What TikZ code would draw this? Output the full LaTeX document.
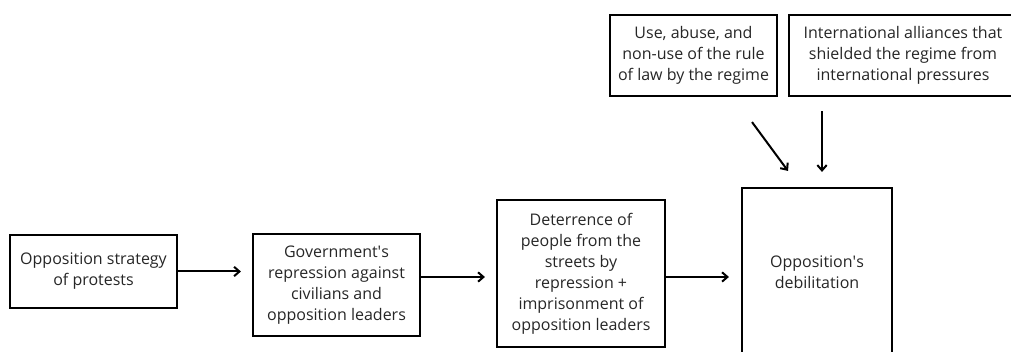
\documentclass[tikz,border=0pt]{standalone}
\usepackage{fontspec}
\setmainfont{Open Sans}
\usetikzlibrary{arrows.meta,calc}
\tikzset{
  box/.style={draw,line width=1.6pt,align=center,inner sep=0pt,
    font=\fontsize{12}{15.75}\selectfont,text=black!85},
  arr/.style={-{Straight Barb[length=4pt,width=7pt]},line width=1.5pt},
}
\begin{document}
\begin{tikzpicture}[x=0.75pt,y=-0.75pt]
 \useasboundingbox (0,0) rectangle (1011,352);
 \path	(93.5,271.5)	node[box,minimum width=125.25pt,minimum height=54.75pt] (strat) {Opposition strategy\\of protests}
	(336.5,285)	node[box,minimum width=125.25pt,minimum height=76.5pt] (repr) {Government\textquotesingle s\\repression against\\civilians and\\opposition leaders}
	(581,273.5)	node[box,minimum width=126pt,minimum height=110.25pt] (deter) {Deterrence of\\people from the\\streets by\\repression +\\imprisonment of\\opposition leaders}
	(817,272)	node[box,minimum width=112.5pt,minimum height=126pt] (debil) {Opposition\textquotesingle s\\debilitation}
	(693.5,55.5)	node[box,minimum width=125.25pt,minimum height=60.75pt] (rule) {Use, abuse, and\\non-use of the rule\\of law by the regime}
	(903,55.5)	node[box,minimum width=171pt,minimum height=60.75pt] (allies) {International alliances that\\shielded the regime from\\international pressures};
 \draw[arr,shorten >=8.25pt] (strat.east) -- (strat.east -| repr.west);
 \draw[arr,shorten >=8.25pt] ([yshift=6pt]repr.east) -- ([yshift=6pt]repr.east -| deter.west);
 \draw[arr,shorten >=9pt] ([yshift=-2.6pt]deter.east) -- ([yshift=-2.6pt]deter.east -| debil.west);
 \draw[arr] ($(rule.south)+(58.5,25)$) -- ($(debil.north)+(-29,-16)$);
 \draw[arr] ($(allies.south)+(-81,14)$) -- ($(debil.north)+(5,-15)$);
\end{tikzpicture}
\end{document}
